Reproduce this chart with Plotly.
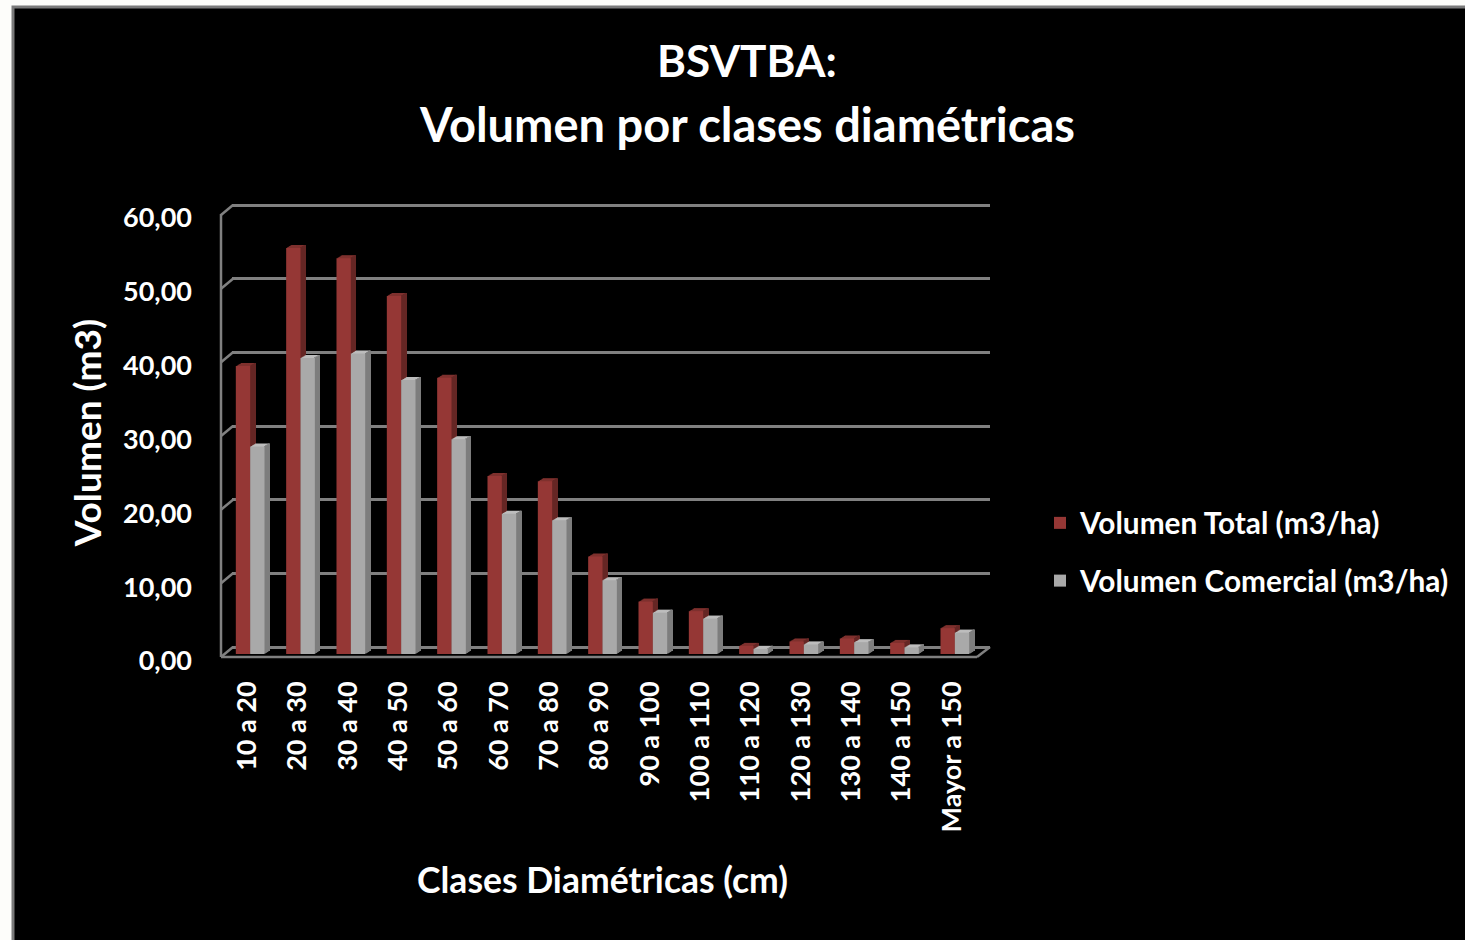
import plotly.graph_objects as go

categories = ["10 a 20","20 a 30","30 a 40","40 a 50","50 a 60","60 a 70","70 a 80","80 a 90","90 a 100","100 a 110","110 a 120","120 a 130","130 a 140","140 a 150","Mayor a 150"]
volumen_total = [39.0,55.0,53.6,48.5,37.4,24.1,23.4,13.2,7.1,5.8,1.1,1.7,2.1,1.5,3.5]
volumen_comercial = [28.1,40.1,40.7,37.1,29.1,19.0,18.1,10.0,5.6,4.8,0.7,1.3,1.6,0.9,2.9]
y_ticks = [0,10,20,30,40,50,60]

W,H = 1465,940
FONT = "Lato"
LINE = "#808080"
def px(x): return x/W
def py(y): return 1-y/H

BAR_W = 0.285
X0,X1 = 225,980       # front plane of the bars
Y0,Y1 = 654,211
N_DEPTH = 5
layout_axes = {}
traces = []
sl = 0.02
def add_axes(i, dx, dy, **yextra):
    sx = "" if i==1 else str(i)
    layout_axes["xaxis"+sx] = dict(domain=[px(X0+dx),px(X1+dx)], range=[-0.5,14.5], type="category",
        categoryorder="array", categoryarray=categories, visible=False, anchor="y"+sx)
    layout_axes["yaxis"+sx] = dict(domain=[py(Y0-dy),py(Y1-dy)], range=[0,60], visible=False, anchor="x"+sx, **yextra)

# back wall gridlines (range padded by one unit so the lines at 0 and 60 are kept)
UNIT = (647-205)/60
layout_axes["xaxis"] = dict(domain=[px(232),px(990)], range=[-0.5,14.5], type="category",
    categoryorder="array", categoryarray=categories, visible=True, showticklabels=False, showline=False,
    showgrid=False, ticks="", zeroline=False, anchor="y")
layout_axes["yaxis"] = dict(domain=[py(647+UNIT),py(205-UNIT)], range=[-1,61], tickvals=y_ticks, showgrid=True, gridcolor=LINE,
    gridwidth=3, showticklabels=False, ticks="", zeroline=False, showline=False, anchor="x")
traces.append(go.Bar(x=categories,y=volumen_total,xaxis="x",yaxis="y",marker_opacity=0,showlegend=False,hoverinfo="skip"))

RED_TOP,RED_SIDE = "#7f302e","#652624"
GRAY_TOP,GRAY_SIDE = "#bdbdbd","#7d7d7d"
for idx,k in enumerate(range(N_DEPTH,0,-1)):
    i = idx+2
    add_axes(i,k,0.6*k)
    for vals,off,top,side in ((volumen_total,-BAR_W,RED_TOP,RED_SIDE),(volumen_comercial,0,GRAY_TOP,GRAY_SIDE)):
        traces.append(go.Bar(x=categories,y=vals,xaxis=f"x{i}",yaxis=f"y{i}",width=BAR_W,offset=off,
            marker=dict(color=top,line_width=0),showlegend=False,hoverinfo="skip"))
        traces.append(go.Bar(x=categories,y=vals,xaxis=f"x{i}",yaxis=f"y{i}",width=sl,offset=off+BAR_W-sl,
            marker=dict(color=side,line_width=0),showlegend=False,hoverinfo="skip"))

# front
fi = N_DEPTH+2
fx,fy = f"xaxis{fi}",f"yaxis{fi}"
tickfont = dict(family=FONT,size=27,color="white",weight=700)
layout_axes[fx] = dict(domain=[px(X0),px(X1)], range=[-0.5,14.5], type="category", categoryorder="array",
    categoryarray=categories, tickangle=-90, tickfont=dict(family=FONT,size=27,color="white",weight=700),
    ticks="", showline=False, showgrid=False, ticklabelstandoff=21, ticklabelshift=-3, anchor=f"y{fi}",
    title=dict(text="Clases Diamétricas (cm)",font=dict(family=FONT,size=35.5,color="white",weight=700),standoff=36))
layout_axes[fy] = dict(domain=[py(Y0),py(Y1)], range=[0,60], tickvals=y_ticks, tickformat=".2f",
    tickfont=tickfont, ticks="", showline=False, showgrid=False, zeroline=False, ticklabelstandoff=32, ticklabelshift=7, anchor=f"x{fi}",
    title=dict(text="Volumen (m3)",font=dict(family=FONT,size=37,color="white",weight=700),standoff=10))
traces.append(go.Bar(x=categories,y=volumen_total,name="Volumen Total (m3/ha)",xaxis=f"x{fi}",yaxis=f"y{fi}",
    width=BAR_W,offset=-BAR_W,marker=dict(color="#953735",line_width=0),legendgroup="a"))
traces.append(go.Bar(x=categories,y=volumen_comercial,name="Volumen Comercial (m3/ha)",xaxis=f"x{fi}",yaxis=f"y{fi}",
    width=BAR_W,offset=0,marker=dict(color="#a9a9a9",line_width=0),legendgroup="b"))

def seg(x0,y0,x1,y1,w=2.5):
    return dict(type="line",xref="paper",yref="paper",x0=px(x0),y0=py(y0),x1=px(x1),y1=py(y1),
                line=dict(color=LINE,width=w),layer="below")
shapes = [dict(type="rect",xref="paper",yref="paper",x0=px(13),y0=py(7),x1=1.01,y1=-0.01,
               fillcolor="black",line=dict(color="#7a7a7a",width=3),layer="below")]
shapes += [seg(221,214,221,657),seg(221,657,977,657),seg(977,657,990,647)]
for t in y_ticks:
    yb = 647-(647-205)*t/60
    shapes.append(seg(221,yb+10,233,yb))

fig = go.Figure(traces)
fig.update_layout(width=W,height=H,margin=dict(l=0,r=0,t=0,b=0,autoexpand=False),autosize=False,barmode="overlay",
    paper_bgcolor="#fdfdfa",plot_bgcolor="rgba(0,0,0,0)",shapes=shapes,separators=",.",
    title=dict(text="BSVTBA:",font=dict(family=FONT,size=44,color="white",weight=700),x=747/W,xanchor="center",
               y=py(62),yanchor="middle"),
    annotations=[dict(text="Volumen por clases diamétricas",xref="paper",yref="paper",x=747/W,y=py(124),
                      xanchor="center",yanchor="middle",showarrow=False,
                      font=dict(family=FONT,size=47,color="white",weight=700))],
    legend=dict(x=px(1040),y=py(552),xanchor="left",yanchor="middle",bgcolor="rgba(0,0,0,0)",traceorder="grouped",
                tracegroupgap=16,font=dict(family=FONT,size=29.8,color="white",weight=700),itemwidth=30),
    **layout_axes)
fig.write_html("out.html",config=dict(displayModeBar=False),post_script="document.body.style.margin='0';")
